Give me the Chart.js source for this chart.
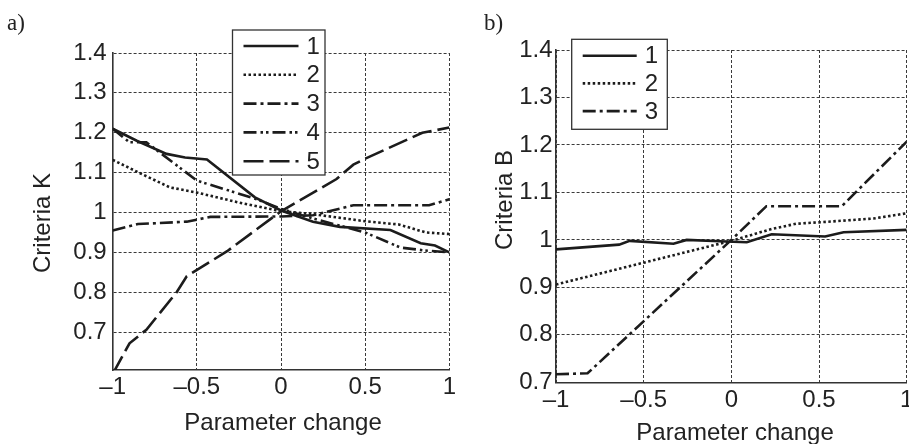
<!DOCTYPE html>
<html>
<head>
<meta charset="utf-8">
<script src="https://cdn.jsdelivr.net/npm/chart.js@4.4.0/dist/chart.umd.min.js"></script>
<style>
  html, body { margin: 0; padding: 0; background: #fff; overflow: hidden; width: 909px; height: 444px; }
  canvas { position: absolute; top: 0; }
  #chartK { left: 0; }
  #chartB { left: 460px; }
  .tag { position: absolute; font-family: "Liberation Serif", "DejaVu Serif", serif; font-size: 23px; line-height: 23px; color: #222; }
</style>
</head>
<body>
<canvas id="chartK" width="460" height="444"></canvas>
<canvas id="chartB" width="470" height="460"></canvas>
<div class="tag" style="left:7px; top:11px">a)</div>
<div class="tag" style="left:484px; top:11px">b)</div>
<script>
// tick values and labels, shared by both panels
const xTicks = [-1, -0.5, 0, 0.5, 1];
const xTickLabels = ["–1", "–0.5", "0", "0.5", "1"];
const yTicks = [0.7, 0.8, 0.9, 1, 1.1, 1.2, 1.3, 1.4];
const yTickLabels = ["0.7", "0.8", "0.9", "1", "1.1", "1.2", "1.3", "1.4"];

// panel a) criteria K, five parameters
const k1X = [-1, -0.857, -0.68, -0.57, -0.44, -0.155, 0, 0.19, 0.35, 0.65, 0.83, 0.915, 1];
const k1Y = [1.21, 1.18, 1.147, 1.138, 1.133, 1.038, 1.005, 0.977, 0.964, 0.956, 0.923, 0.917, 0.9];
const k2X = [-1, -0.82, -0.66, -0.5, -0.25, 0, 0.17, 0.5, 0.7, 0.86, 1];
const k2Y = [1.132, 1.095, 1.063, 1.05, 1.025, 1.003, 0.997, 0.978, 0.97, 0.95, 0.946];
const k3X = [-1, -0.85, -0.56, -0.42, 0, 0.19, 0.43, 0.88, 1];
const k3Y = [0.955, 0.971, 0.977, 0.989, 0.99, 0.993, 1.018, 1.018, 1.033];
const k4X = [-1, -0.9, -0.8, -0.5, -0.15, 0, 0.19, 0.5, 0.71, 0.85, 1];
const k4Y = [1.21, 1.176, 1.176, 1.08, 1.034, 1.009, 0.985, 0.95, 0.912, 0.905, 0.9];
const k5X = [-1, -0.9, -0.8, -0.62, -0.56, -0.32, 0, 0.33, 0.43, 0.5, 0.84, 1];
const k5Y = [0.595, 0.672, 0.706, 0.8, 0.84, 0.903, 1.003, 1.084, 1.12, 1.135, 1.2, 1.213];

// panel b) criteria B, three parameters
const b1X = [-1, -0.64, -0.58, -0.33, -0.255, -0.065, 0.088, 0.23, 0.535, 0.64, 1];
const b1Y = [0.98, 0.99, 0.998, 0.992, 1.0, 0.997, 0.995, 1.012, 1.007, 1.016, 1.021];
const b2X = [-1, -0.5, 0, 0.23, 0.37, 0.54, 0.81, 1];
const b2Y = [0.906, 0.952, 0.998, 1.023, 1.034, 1.038, 1.045, 1.056];
const b3X = [-1, -0.82, 0, 0.2, 0.63, 1];
const b3Y = [0.717, 0.719, 1.0, 1.071, 1.071, 1.207];

const ink = "#1c1c1c";
const sansFont = '"Liberation Sans", Arial, sans-serif';
const dashes = {
    solid: [],
    dotted: [2.5, 2.5],
    dashDot: [13, 4, 3, 4],
    dashDotDot: [13, 4, 2.5, 3, 2.5, 4],
    longDash: [20, 6]
};

const toPoints = (xs, ys) => xs.map((x, i) => ({ x: x, y: ys[i] }));

const series = (label, xs, ys, dash) => ({
    label: label,
    data: toPoints(xs, ys),
    borderColor: ink,
    borderWidth: 2.6,
    borderDash: dash,
    pointRadius: 0,
    tension: 0,
    fill: false
});

// boxed legend with line samples, drawn over the lines
const boxLegend = {
    id: "boxLegend",
    afterDatasetsDraw(chart, args, opts) {
        const ctx = chart.ctx;
        ctx.save();
        ctx.fillStyle = "#fff";
        ctx.fillRect(opts.x, opts.y, opts.width, opts.height);
        ctx.strokeStyle = "#333";
        ctx.lineWidth = 1.3;
        ctx.strokeRect(opts.x, opts.y, opts.width, opts.height);
        ctx.font = "24px " + sansFont;
        ctx.textBaseline = "middle";
        chart.data.datasets.forEach((ds, i) => {
            const cy = opts.y + opts.firstRow + i * opts.rowGap;
            ctx.setLineDash(ds.borderDash);
            ctx.lineWidth = ds.borderWidth;
            ctx.strokeStyle = ds.borderColor;
            ctx.beginPath();
            ctx.moveTo(opts.x + opts.lineStart, cy);
            ctx.lineTo(opts.x + opts.lineEnd, cy);
            ctx.stroke();
            ctx.setLineDash([]);
            ctx.fillStyle = "#222";
            ctx.fillText(ds.label, opts.x + opts.textX, cy + 1);
        });
        ctx.restore();
    }
};

// axis titles
const axisTitles = {
    id: "axisTitles",
    afterDraw(chart, args, opts) {
        const ctx = chart.ctx;
        ctx.save();
        ctx.fillStyle = "#222";
        ctx.font = "24px " + sansFont;
        ctx.textAlign = "center";
        ctx.textBaseline = "alphabetic";
        ctx.fillText(opts.xText, opts.xAt[0], opts.xAt[1]);
        ctx.translate(opts.yAt[0], opts.yAt[1]);
        ctx.rotate(-Math.PI / 2);
        ctx.textBaseline = "middle";
        ctx.fillText(opts.yText, 0, 0);
        ctx.restore();
    }
};

const makeScales = (dims) => ({
    x: {
        type: "linear",
        position: "bottom",
        min: -1,
        max: 1,
        afterBuildTicks: (axis) => { axis.ticks = xTicks.map(v => ({ value: v })); },
        afterFit: (axis) => { axis.height = dims.xHeight; },
        ticks: {
            autoSkip: false,
            maxRotation: 0,
            minRotation: 0,
            padding: dims.xPad,
            color: "#222",
            font: { family: sansFont, size: 24 },
            callback: (v) => xTickLabels[xTicks.indexOf(v)]
        },
        grid: { color: "#3a3a3a", lineWidth: 1, drawTicks: false },
        border: { display: true, color: "#333", width: 1.6, dash: [3, 2] }
    },
    y: {
        type: "linear",
        min: dims.yMin,
        max: 1.4,
        afterBuildTicks: (axis) => { axis.ticks = yTicks.map(v => ({ value: v })); },
        afterFit: (axis) => { axis.width = dims.yWidth; },
        ticks: {
            padding: dims.yPad,
            color: "#222",
            font: { family: sansFont, size: 24 },
            callback: (v) => yTickLabels[yTicks.findIndex(t => Math.abs(t - v) < 1e-9)]
        },
        grid: { color: "#3a3a3a", lineWidth: 1, drawTicks: false },
        border: { display: true, color: "#333", width: 1.6, dash: [3, 2] }
    }
});

new Chart(document.querySelector("#chartK"), {
    type: "line",
    data: {
        datasets: [
            series("1", k1X, k1Y, dashes.solid),
            series("2", k2X, k2Y, dashes.dotted),
            series("3", k3X, k3Y, dashes.dashDot),
            series("4", k4X, k4Y, dashes.dashDotDot),
            series("5", k5X, k5Y, dashes.longDash)
        ]
    },
    options: {
        responsive: false,
        animation: false,
        layout: { padding: { left: 0, top: 53, right: 10.7, bottom: 0 } },
        scales: makeScales({ yMin: 0.605, xHeight: 74, yWidth: 112.7, xPad: 3, yPad: 6 }),
        plugins: {
            legend: { display: false },
            tooltip: { enabled: false },
            boxLegend: { x: 232.5, y: 30, width: 92.5, height: 145, firstRow: 16, rowGap: 28.8, lineStart: 11, lineEnd: 66, textX: 74 },
            axisTitles: { xText: "Parameter change", xAt: [283, 430], yText: "Criteria K", yAt: [43, 223] }
        }
    },
    plugins: [boxLegend, axisTitles]
});

new Chart(document.querySelector("#chartB"), {
    type: "line",
    data: {
        datasets: [
            series("1", b1X, b1Y, dashes.solid),
            series("2", b2X, b2Y, dashes.dotted),
            series("3", b3X, b3Y, dashes.dashDot)
        ]
    },
    options: {
        responsive: false,
        animation: false,
        layout: { padding: { left: 0, top: 50, right: 23.3, bottom: 0 } },
        scales: makeScales({ yMin: 0.7, xHeight: 77.7, yWidth: 96, xPad: 4, yPad: 3.5 }),
        plugins: {
            legend: { display: false },
            tooltip: { enabled: false },
            boxLegend: { x: 111.7, y: 39.3, width: 95.6, height: 90, firstRow: 16.4, rowGap: 27.7, lineStart: 11, lineEnd: 65, textX: 73 },
            axisTitles: { xText: "Parameter change", xAt: [275, 440], yText: "Criteria B", yAt: [45, 200] }
        }
    },
    plugins: [boxLegend, axisTitles]
});
</script>
</body>
</html>
